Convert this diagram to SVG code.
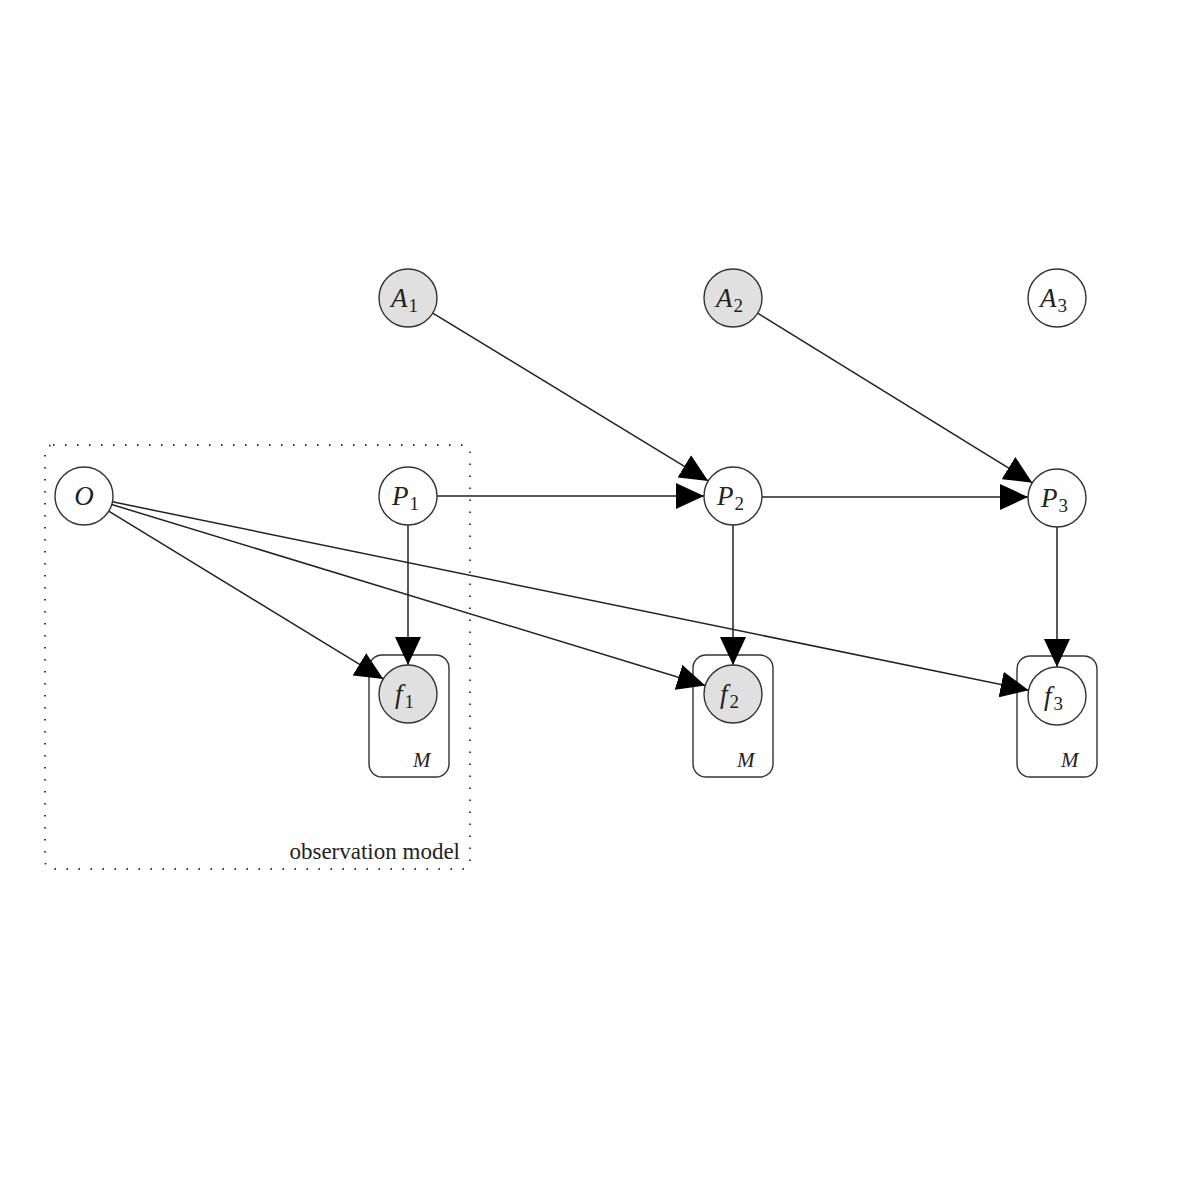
<svg xmlns="http://www.w3.org/2000/svg" width="1184" height="1184" viewBox="0 0 1184 1184">
<style>
.n{stroke:#333;stroke-width:1.4;fill:#fff}
.g{fill:#e0e0e0}
.plate{fill:none;stroke:#333;stroke-width:1.4}
.t{font-family:"Liberation Serif",serif;font-style:italic;font-size:27px;fill:#222}
.s{font-size:19px;font-style:normal}
.m{font-family:"Liberation Serif",serif;font-style:italic;font-size:21px;fill:#222}
.e{stroke:#222;stroke-width:1.5;fill:none;marker-end:url(#ah)}
</style>
<defs>
<marker id="ah" markerUnits="userSpaceOnUse" markerWidth="30" markerHeight="26" refX="28" refY="13" orient="auto">
<path d="M0,0 L28,13 L0,26 Z" fill="#000"/>
</marker>
</defs>
<rect width="1184" height="1184" fill="#fff"/>
<g id="observation-model">
<rect x="45" y="445" width="425" height="424" rx="8" fill="none" stroke="#333" stroke-width="1.8" stroke-dasharray="1.5 10.5"/>
<text x="460" y="859" text-anchor="end" font-family="Liberation Serif,serif" font-size="23" fill="#222">observation model</text>
</g>
<g id="plate1"><rect class="plate" x="369" y="655" width="80" height="122" rx="13"/><text class="m" x="413" y="767">M</text></g>
<g id="plate2"><rect class="plate" x="693" y="655" width="80" height="122" rx="13"/><text class="m" x="737" y="767">M</text></g>
<g id="plate3"><rect class="plate" x="1017" y="656" width="80" height="121" rx="13"/><text class="m" x="1061" y="767">M</text></g>
<g id="connectors">
<line class="e" x1="432.8" y1="313.1" x2="708.2" y2="480.9"/>
<line class="e" x1="757.7" y1="313.2" x2="1032.3" y2="482.8"/>
<line class="e" x1="437" y1="496" x2="704" y2="496"/>
<line class="e" x1="762" y1="497" x2="1028" y2="497"/>
<line class="e" x1="408" y1="525" x2="408" y2="665"/>
<line class="e" x1="733" y1="525" x2="733" y2="665"/>
<line class="e" x1="1057" y1="527" x2="1057" y2="667"/>
<line class="e" x1="108.7" y1="511.1" x2="383.3" y2="678.9"/>
<line class="e" x1="111.7" y1="504.5" x2="705.3" y2="685.5"/>
<line class="e" x1="112.4" y1="501.8" x2="1028.6" y2="690.2"/>
</g>
<g id="A1"><circle class="n g" cx="408" cy="298" r="29"/><text class="t" x="391" y="307">A<tspan class="s" dx="1" dy="5">1</tspan></text></g>
<g id="A2"><circle class="n g" cx="733" cy="298" r="29"/><text class="t" x="716" y="307">A<tspan class="s" dx="1" dy="5">2</tspan></text></g>
<g id="A3"><circle class="n" cx="1057" cy="298" r="29"/><text class="t" x="1040" y="307">A<tspan class="s" dx="1" dy="5">3</tspan></text></g>
<g id="O"><circle class="n" cx="84" cy="496" r="29"/><text class="t" x="84" y="505" text-anchor="middle">O</text></g>
<g id="P1"><circle class="n" cx="408" cy="496" r="29"/><text class="t" x="392" y="505">P<tspan class="s" dx="1" dy="5">1</tspan></text></g>
<g id="P2"><circle class="n" cx="733" cy="496" r="29"/><text class="t" x="717" y="505">P<tspan class="s" dx="1" dy="5">2</tspan></text></g>
<g id="P3"><circle class="n" cx="1057" cy="498" r="29"/><text class="t" x="1041" y="507">P<tspan class="s" dx="1" dy="5">3</tspan></text></g>
<g id="f1"><circle class="n g" cx="408" cy="694" r="29"/><text class="t" x="395" y="703">f<tspan class="s" dx="2" dy="5">1</tspan></text></g>
<g id="f2"><circle class="n g" cx="733" cy="694" r="29"/><text class="t" x="720" y="703">f<tspan class="s" dx="2" dy="5">2</tspan></text></g>
<g id="f3"><circle class="n" cx="1057" cy="696" r="29"/><text class="t" x="1044" y="705">f<tspan class="s" dx="2" dy="5">3</tspan></text></g>
</svg>
